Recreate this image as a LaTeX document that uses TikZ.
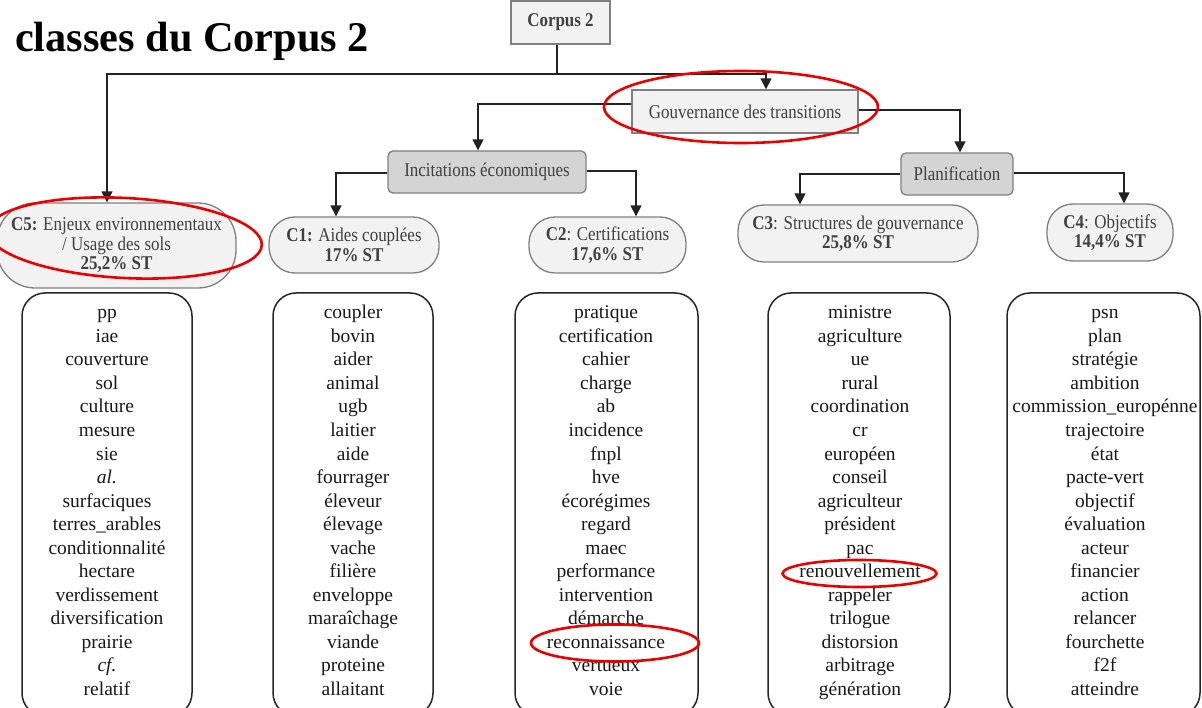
\documentclass[tikz,border=0pt]{standalone}
\usepackage{fontspec}
\setmainfont{Liberation Serif}
\newfontfamily\labfont[FakeStretch=0.87]{Liberation Serif}
\usetikzlibrary{arrows.meta}
\definecolor{boxfill}{HTML}{F2F2F2}
\definecolor{darkfill}{HTML}{D4D4D4}
\definecolor{boxline}{HTML}{7F7F7F}
\definecolor{labtext}{HTML}{404040}
\definecolor{ringred}{RGB}{235,0,0}
\definecolor{conncol}{HTML}{222222}
\begin{document}
\begin{tikzpicture}[x=1pt,y=-1pt,
  lab/.style={font=\labfont\fontsize{19.5}{19.5}\selectfont, text=labtext, align=center, inner sep=0pt},
  sqbox/.style={lab, draw=boxline, fill=boxfill, line width=1.3pt},
  grbox/.style={lab, draw=boxline, fill=darkfill, line width=1.3pt, rounded corners=5pt},
  pill/.style={lab, draw=boxline, fill=boxfill, line width=1.3pt, rounded corners=26pt},
  wbox/.style={draw=black!85, line width=1.5pt, rounded corners=23pt},
  word/.style={font=\fontsize{19.5}{23.5}\selectfont, text=black!90, inner sep=0pt, anchor=base},
  conn/.style={draw=conncol, line width=1.4pt},
  arr/.style={conn, -{Triangle[width=11pt,length=11pt]}},
  ring/.style={draw=ringred, line width=2.6pt},
]
\fill[white] (0,0) rectangle (1202,708);
\useasboundingbox (0,0) rectangle (1202,708);

% title
\node[font=\bfseries\fontsize{42.3}{45}\selectfont, anchor=base west, inner sep=0pt] (title) at (15,52) {classes du Corpus 2};

% hierarchy boxes
\node[sqbox, minimum width=99pt, minimum height=43pt] (corpus) at (560.5,22.5) {\textbf{Corpus 2}};
\node[sqbox, minimum width=226pt, minimum height=43pt] (gouv) at (745,111.5) {Gouvernance des transitions};
\node[grbox, minimum width=198pt, minimum height=42pt] (inc) at (487,172) {Incitations économiques};
\node[grbox, minimum width=112pt, minimum height=42pt] (plan) at (957,174) {Planification};

\node[pill, rounded corners=38pt, minimum width=239pt, minimum height=85pt] (c5) at (116.5,245.5)
  {\textbf{C5:} Enjeux environnementaux\\/ Usage des sols\\\textbf{25,2\% ST}};
\node[pill, minimum width=170pt, minimum height=56pt] (c1) at (354,245) {\textbf{C1:} Aides couplées\\\textbf{17\% ST}};
\node[pill, minimum width=157pt, minimum height=56pt] (c2) at (607.5,245) {\textbf{C2}: Certifications\\\textbf{17,6\% ST}};
\node[pill, minimum width=240pt, minimum height=57pt] (c3) at (858,233.5) {\textbf{C3}: Structures de gouvernance\\\textbf{25,8\% ST}};
\node[pill, minimum width=126pt, minimum height=57pt] (c4) at (1110,232.5) {\textbf{C4}: Objectifs\\\textbf{14,4\% ST}};

% connectors
\coordinate (j) at (557,74);
\draw[conn] ([xshift=-3.5pt]corpus.south) -- (j);
\draw[arr] (j) -| ([xshift=-9.5pt]c5.north);
\draw[arr] (j) -| ([xshift=21pt]gouv.north);
\draw[arr] ([yshift=7.5pt]gouv.west) -| ([xshift=-9pt]inc.north);
\draw[arr] ([yshift=1.5pt]gouv.east) -| ([xshift=3pt]plan.north);
\draw[arr] ([yshift=-1pt]inc.west) -| ([xshift=-18pt]c1.north);
\draw[arr] ([yshift=1pt]inc.east) -| ([xshift=28.5pt]c2.north);
\draw[arr] (plan.west) -| ([xshift=-58pt]c3.north);
\draw[arr] ([yshift=1pt]plan.east) -| ([xshift=14pt]c4.north);

% word boxes
\node[wbox, minimum width=170pt, minimum height=423pt] (b5) at (107,504.5) {};
\node[wbox, minimum width=160pt, minimum height=423pt] (b1) at (353,504.5) {};
\node[wbox, minimum width=183pt, minimum height=423pt] (b2) at (606.5,504.5) {};
\node[wbox, minimum width=182pt, minimum height=423pt] (b3) at (859,504.5) {};
\node[wbox, minimum width=193pt, minimum height=423pt] (b4) at (1103.5,504.5) {};

\foreach [count=\i] \w in {pp,iae,couverture,sol,culture,mesure,sie,{\textit{al.}},surfaciques,terres\_arables,conditionnalité,hectare,verdissement,diversification,prairie,{\textit{cf.}},relatif}
  \node[word] (l5-\i) at (107,{319+(\i-1)*23.5}) {\w};
\foreach [count=\i] \w in {coupler,bovin,aider,animal,ugb,laitier,aide,fourrager,éleveur,élevage,vache,filière,enveloppe,maraîchage,viande,proteine,allaitant}
  \node[word] (l1-\i) at (353,{319+(\i-1)*23.5}) {\w};
\foreach [count=\i] \w in {pratique,certification,cahier,charge,ab,incidence,fnpl,hve,écorégimes,regard,maec,performance,intervention,démarche,reconnaissance,vertueux,voie}
  \node[word] (l2-\i) at (606,{319+(\i-1)*23.5}) {\w};
\foreach [count=\i] \w in {ministre,agriculture,ue,rural,coordination,cr,européen,conseil,agriculteur,président,pac,renouvellement,rappeler,trilogue,distorsion,arbitrage,génération}
  \node[word] (l3-\i) at (860,{319+(\i-1)*23.5}) {\w};
\foreach [count=\i] \w in {psn,plan,stratégie,ambition,commission\_europénne,trajectoire,état,pacte-vert,objectif,évaluation,acteur,financier,action,relancer,fourchette,f2f,atteindre}
  \node[word] (l4-\i) at (1105,{319+(\i-1)*23.5}) {\w};

% red highlight rings
\draw[ring] (741,107) ellipse [x radius=137, y radius=36];
\draw[ring, rotate around={-3:(125,238)}] (125,238) ellipse [x radius=137, y radius=40];
\draw[ring] (615,643) ellipse [x radius=84, y radius=18.5];
\draw[ring] (859.5,573.5) ellipse [x radius=77, y radius=13.5];
\end{tikzpicture}
\end{document}
